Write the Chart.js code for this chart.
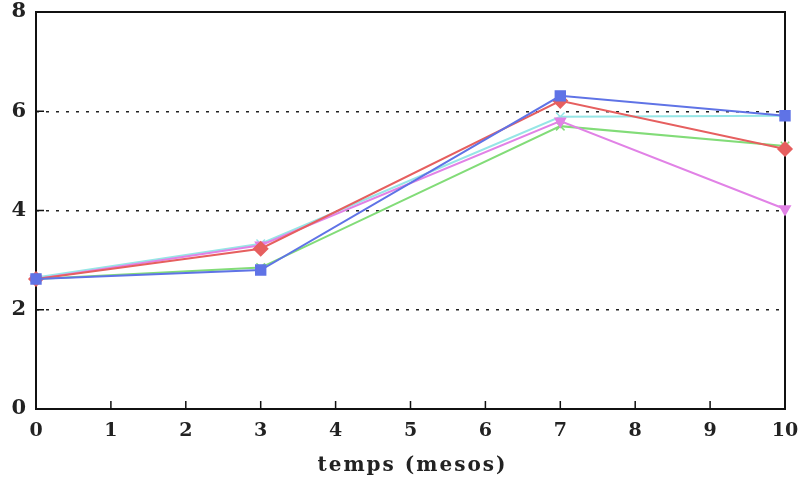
<!DOCTYPE html>
<html><head><meta charset="utf-8">
<script src="https://cdn.jsdelivr.net/npm/chart.js@4/dist/chart.umd.min.js"></script>
<style>html,body{margin:0;padding:0;background:#fff}#wrap{width:798px;height:482px}</style>
</head><body><div id="wrap"><canvas id="c"></canvas></div>
<script>
const months = [0, 3, 7, 10];
const cyanVals = [2.65, 3.33, 5.89, 5.91];
const greenVals = [2.62, 2.85, 5.70, 5.30];
const magentaVals = [2.62, 3.30, 5.80, 4.03];
const redVals = [2.62, 3.23, 6.21, 5.24];
const blueVals = [2.62, 2.80, 6.31, 5.91];
const xTicks = [0,1,2,3,4,5,6,7,8,9,10];
const yTicks = [0,2,4,6,8];
const xTitle = 'temps (mesos)';

function pts(v){ return months.map((m,i)=>({x:m,y:v[i]})); }
function ds(v,color,style,rot,r){
  return {data:pts(v),borderColor:color,backgroundColor:color,borderWidth:2,clip:false,
    pointStyle:style,pointRotation:rot||0,pointRadius:r||5,pointBorderWidth:1.5,tension:0,fill:false};
}
const FONT = "'DejaVu Serif','Liberation Serif',serif";

const frame = {
  id:'frame',
  beforeDatasetsDraw(chart){
    const {ctx, chartArea:a, scales:{x,y}} = chart;
    ctx.save();
    ctx.strokeStyle='#111'; ctx.lineWidth=2;
    ctx.strokeRect(a.left,a.top,a.right-a.left,a.bottom-a.top);
    ctx.lineWidth=1.5;
    ctx.beginPath();
    xTicks.forEach(t=>{ if(t>0&&t<10){const px=x.getPixelForValue(t); ctx.moveTo(px,a.bottom); ctx.lineTo(px,a.bottom-8);} });
    yTicks.forEach(t=>{ if(t>0&&t<8){const py=y.getPixelForValue(t); ctx.moveTo(a.left,py); ctx.lineTo(a.left+8,py);} });
    ctx.stroke();
    ctx.restore();
  },
  afterDraw(chart){
    const {ctx, chartArea:a} = chart;
    ctx.save();
    ctx.fillStyle='#222';
    ctx.font = "bold 20px " + FONT;
    ctx.letterSpacing = '2px';
    ctx.textAlign='center'; ctx.textBaseline='middle';
    ctx.fillText(xTitle,(a.left+a.right)/2+2,466);
    ctx.restore();
  }
};

new Chart(document.getElementById('c'),{
  type:'line',
  data:{datasets:[
    ds(blueVals,'rgb(95,115,230)','rect',0,7),
    ds(redVals,'rgb(230,95,95)','rectRot',0,7),
    ds(magentaVals,'rgb(225,130,230)','triangle',180,6),
    ds(greenVals,'rgb(130,220,120)','crossRot',0,6),
    ds(cyanVals,'rgb(150,230,230)','crossRot',0,6)
  ]},
  plugins:[frame],
  options:{
    responsive:true, maintainAspectRatio:false, animation:false,
    plugins:{legend:{display:false},tooltip:{enabled:false}},
    layout:{padding:{top:2,right:0,left:2,bottom:28}},
    scales:{
      x:{type:'linear',min:0,max:10,
        afterBuildTicks(s){ s.ticks = xTicks.map(v=>({value:v})); },
        afterFit(s){ s.paddingRight = 13; s.paddingLeft = 0; },
        grid:{display:false,drawTicks:false},
        border:{display:false},
        ticks:{color:'#222',font:{family:FONT,size:19,weight:'bold',lineHeight:1},padding:13,maxRotation:0},
        title:{display:false}
      },
      y:{min:0,max:8,
        afterBuildTicks(s){ s.ticks = yTicks.map(v=>({value:v})); },
        afterFit(s){ s.width = 34; s.paddingTop = 12; s.paddingBottom = 0; },
        grid:{drawTicks:false,lineWidth:1.5,
          color:c=>(c.tick && (c.tick.value===0||c.tick.value===8))?'rgba(0,0,0,0)':'#222'},
        border:{display:false,dash:[3,7]},
        ticks:{color:'#222',font:{family:FONT,size:21,weight:'bold',lineHeight:1},padding:10}
      }
    }
  }
});
</script>
</body></html>
